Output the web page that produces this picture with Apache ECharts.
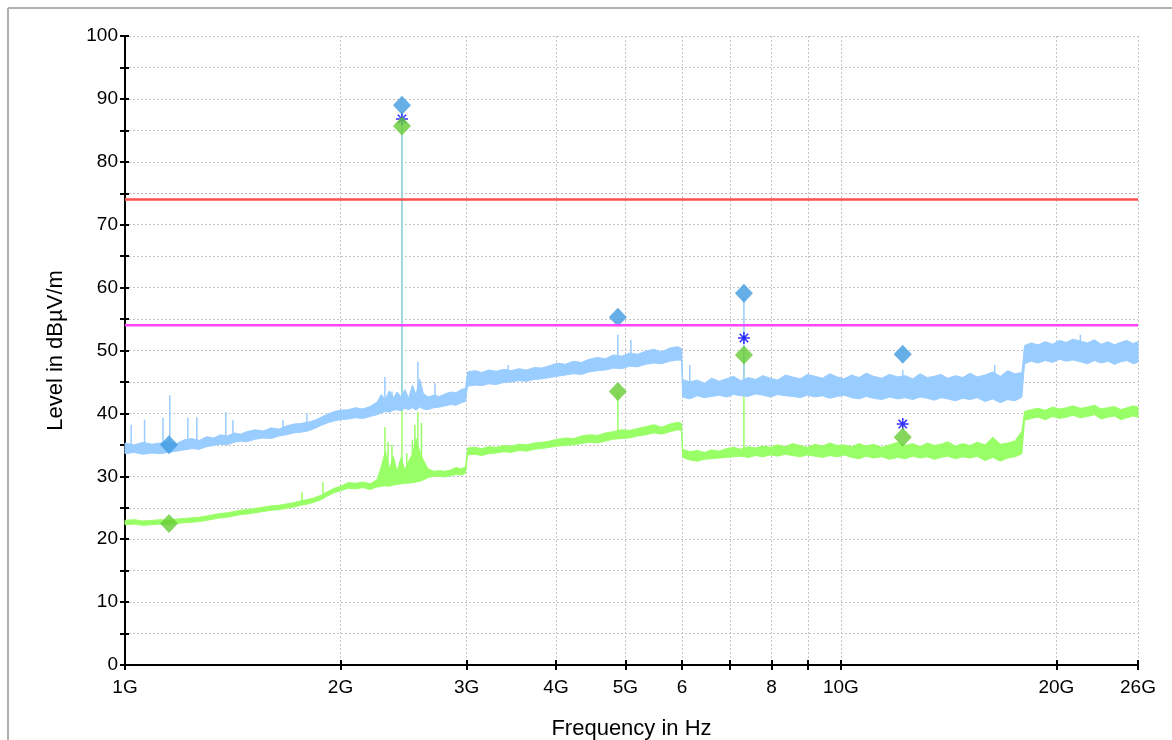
<!DOCTYPE html>
<html>
<head>
<meta charset="utf-8">
<script src="https://cdn.jsdelivr.net/npm/echarts@6/dist/echarts.min.js"></script>
<style>
  html, body { margin: 0; padding: 0; background: #fff; }
  #chart { width: 1172px; height: 740px; }
</style>
</head>
<body>
<div id="chart"></div>
<script>
// sweep frequencies in GHz
const freqs = [
  1.00, 1.03, 1.06, 1.09, 1.12, 1.15, 1.18, 1.21, 1.24, 1.27, 1.30, 1.33, 1.36, 1.39, 1.42, 1.45, 1.48, 1.52, 1.56, 1.60, 1.64, 1.68, 1.72, 1.76, 1.80, 1.84, 1.88, 1.92, 1.96, 2.00,
  2.05, 2.10, 2.15, 2.20, 2.25, 2.28, 2.31, 2.34, 2.37, 2.40, 2.43, 2.46, 2.49, 2.52, 2.55, 2.58, 2.61, 2.65, 2.70, 2.75, 2.80, 2.85, 2.90, 2.95, 2.99,
  3.01, 3.08, 3.15, 3.22, 3.30, 3.38, 3.46, 3.55, 3.64, 3.73, 3.82, 3.92, 4.02, 4.12, 4.23, 4.34, 4.45, 4.57, 4.69, 4.81, 4.94, 5.07, 5.20, 5.34, 5.48, 5.62, 5.77, 5.92, 5.99,
  6.01, 6.15, 6.30, 6.45, 6.60, 6.76, 6.92, 7.08, 7.25, 7.42, 7.60, 7.78, 7.97, 8.16, 8.36, 8.56, 8.77, 8.98, 9.20, 9.42, 9.65, 9.88, 10.1, 10.35, 10.6, 10.85, 11.1, 11.4, 11.7, 12.0, 12.3, 12.6, 12.9, 13.2, 13.5, 13.8, 14.1, 14.45, 14.8, 15.15, 15.5, 15.9, 16.3, 16.7, 17.1, 17.5, 17.9,
  18.05, 18.45, 18.85, 19.3, 19.75, 20.2, 20.65, 21.1, 21.6, 22.1, 22.6, 23.1, 23.6, 24.1, 24.6, 25.1, 25.6, 26.0
]

// peak trace (light blue), upper and lower edge of the noise band
const peakHi = [
  35.3, 35.0, 35.4, 35.1, 35.3, 35.6, 35.2, 35.8, 36.0, 35.7, 36.3, 36.1, 36.6, 36.4, 36.9, 36.7, 37.1, 37.4, 37.2, 37.7, 37.5, 38.0, 38.3, 38.4, 38.6, 38.9, 39.4, 39.9, 40.3, 40.5,
  40.6, 40.9, 40.7, 41.1, 41.8, 43.0, 42.2, 43.6, 42.5, 43.4, 42.6, 43.8, 42.4, 44.5, 43.0, 45.5, 43.2, 42.6, 42.9, 42.7, 43.1, 43.4, 43.3, 43.8, 44.0,
  46.6, 46.8, 46.5, 46.9, 46.7, 47.0, 46.8, 47.1, 46.9, 47.3, 47.2, 47.6, 48.0, 47.8, 48.3, 48.1, 48.6, 48.9, 48.7, 49.3, 49.1, 49.6, 49.4, 49.9, 50.2, 49.8, 50.4, 50.6, 50.3,
  45.4, 45.0, 45.3, 44.8, 45.6, 45.1, 45.5, 45.9, 45.2, 45.7, 45.4, 46.0, 45.6, 45.3, 46.1, 45.8, 45.5, 46.2, 45.9, 45.6, 46.3, 45.8, 45.5, 46.1, 45.7, 46.4, 45.9, 45.6, 46.2, 45.8, 46.0, 45.5, 46.3, 45.7, 45.9, 46.2, 45.6, 46.0, 45.7, 46.4, 45.8, 46.1, 46.6, 45.9, 46.8, 46.3, 46.5,
  50.8, 51.2, 50.9, 51.4, 51.0, 51.6, 51.3, 51.8, 51.5, 51.2, 51.7, 51.0, 51.4, 50.9, 51.3, 51.6, 51.1, 51.4
]
const peakLo = [
  33.6, 33.8, 33.5, 33.7, 33.6, 33.8, 34.0, 34.2, 34.4, 34.3, 34.7, 34.9, 35.1, 35.0, 35.4, 35.6, 35.5, 35.9, 36.1, 36.0, 36.4, 36.6, 36.9, 37.0, 37.2, 37.6, 38.1, 38.5, 38.8, 39.0,
  39.1, 39.3, 39.2, 39.5, 39.8, 40.1, 40.3, 40.2, 40.5, 40.6, 40.4, 40.8, 40.6, 40.9, 40.5, 41.0, 40.7, 40.6, 40.9, 41.0, 41.2, 41.4, 41.3, 41.7, 41.9,
  44.3, 44.5, 44.4, 44.7, 44.6, 44.9, 45.0, 45.2, 45.1, 45.4, 45.5, 45.7, 45.9, 46.1, 46.3, 46.2, 46.6, 46.8, 46.9, 47.2, 47.1, 47.5, 47.4, 47.8, 48.0, 47.9, 48.3, 48.5, 48.4,
  42.6, 42.3, 42.8, 42.5, 42.7, 42.9, 42.6, 43.0, 42.8, 42.7, 43.1, 42.9, 42.6, 43.0, 42.8, 42.7, 42.5, 42.9, 42.6, 42.8, 42.4, 42.7, 42.9, 42.5, 42.3, 42.7, 42.4, 42.2, 42.6, 42.3, 42.5, 42.2, 42.6, 42.4, 42.1, 42.5, 42.3, 42.0, 42.4, 42.2, 42.5, 41.9, 42.3, 41.7, 42.2, 42.0, 42.6,
  47.9, 48.3, 48.0, 48.4, 48.1, 48.6, 48.3, 48.5, 48.2, 47.9, 48.4, 48.0, 48.3, 47.8, 48.2, 48.4, 47.9, 48.1
]

// average trace (light green)
const avgHi = [
  23.0, 23.1, 22.9, 23.0, 23.1, 23.0, 23.2, 23.3, 23.4, 23.5, 23.7, 23.9, 24.1, 24.2, 24.4, 24.6, 24.7, 24.9, 25.1, 25.3, 25.4, 25.6, 25.8, 26.1, 26.3, 26.6, 27.0, 27.6, 28.1, 28.4,
  29.0, 28.9, 29.1, 28.8, 29.5, 31.5, 34.0, 31.2, 33.2, 30.8, 33.0, 31.0, 32.4, 33.5, 36.0, 34.0, 32.6, 31.2, 30.8, 30.9, 30.8, 31.0, 31.4, 31.2, 31.5,
  34.5, 34.6, 34.4, 34.7, 34.6, 34.9, 34.8, 35.1, 35.0, 35.3, 35.4, 35.6, 35.9, 36.1, 36.0, 36.4, 36.6, 36.5, 36.9, 37.1, 37.4, 37.3, 37.6, 37.9, 38.2, 37.8, 38.3, 38.6, 38.4,
  34.3, 33.9, 34.1, 33.8, 34.2, 34.0, 34.4, 34.6, 34.3, 34.7, 34.5, 34.8, 34.6, 35.0, 34.7, 35.2, 34.9, 34.6, 35.1, 34.8, 35.3, 34.9, 35.0, 34.7, 35.2, 34.8, 35.1, 34.6, 35.0, 35.4, 34.9, 35.2, 34.7, 35.3, 34.9, 35.1, 35.5, 34.8, 35.2, 34.9, 35.4, 35.0, 36.2, 35.1, 35.3, 35.6, 37.2,
  40.3, 40.6, 40.8, 40.5, 41.0, 40.7, 40.9, 41.2, 40.8, 41.0, 41.3, 40.7, 40.9, 41.1, 40.6, 40.9, 41.2, 41.0
]
const avgLo = [
  22.3, 22.4, 22.2, 22.3, 22.4, 22.3, 22.5, 22.6, 22.7, 22.8, 23.0, 23.2, 23.4, 23.5, 23.7, 23.9, 24.0, 24.2, 24.4, 24.6, 24.7, 24.9, 25.1, 25.4, 25.6, 25.9, 26.3, 26.9, 27.4, 27.7,
  28.1, 28.0, 28.2, 27.9, 28.3, 28.4, 28.5, 28.4, 28.6, 28.7, 28.8, 28.9, 28.9, 29.0, 29.1, 29.2, 29.4, 29.8, 30.0, 30.0, 29.9, 30.1, 30.3, 30.2, 30.5,
  33.4, 33.5, 33.3, 33.6, 33.7, 33.9, 33.8, 34.1, 34.0, 34.3, 34.4, 34.6, 34.8, 34.9, 35.0, 35.2, 35.4, 35.3, 35.6, 35.9, 36.0, 36.1, 36.4, 36.6, 36.9, 36.7, 37.1, 37.4, 37.3,
  33.0, 32.6, 32.4, 32.7, 32.8, 32.9, 33.0, 33.1, 33.2, 33.0, 33.3, 33.1, 33.4, 33.2, 33.5, 33.3, 33.1, 33.4, 33.2, 33.0, 33.3, 33.1, 33.4, 33.0, 32.8, 33.2, 32.9, 33.1, 32.7, 33.0, 32.8, 33.2, 32.9, 33.1, 32.7, 33.0, 33.2, 32.8, 33.1, 32.9, 33.2, 32.5, 33.0, 32.4, 32.9, 33.1, 33.6,
  38.9, 39.2, 39.4, 39.0, 39.5, 39.2, 39.4, 39.7, 39.3, 39.5, 39.8, 39.1, 39.4, 39.6, 39.0, 39.3, 39.6, 39.4
]

// narrow spikes: [GHz, from dB, to dB]
const peakSpikes = [
  [1.02, 35, 38.2], [1.065, 35, 39.0], [1.13, 35, 39.3], [1.155, 35, 42.9], [1.224, 35.5, 39.3],
  [1.26, 35.5, 39.4], [1.383, 36, 40.2], [1.415, 36, 38.9], [1.662, 37, 38.9], [1.795, 38, 40.0],
  [2.307, 41, 45.8], [2.36, 41, 43.5], [2.437, 42, 88.0], [2.565, 42, 48.2], [2.71, 42, 44.8],
  [3.43, 46, 47.7], [4.88, 48, 52.5], [5.09, 49, 51.7], [6.15, 44, 47.7], [7.32, 44, 58.5],
  [12.2, 45, 46.9], [16.4, 45, 47.7], [21.6, 50, 52.5]
]
const avgSpikes = [
  [1.767, 26, 27.5], [1.89, 27, 29.1], [2.307, 29, 37.8], [2.33, 29, 35.5], [2.36, 29, 35.0],
  [2.437, 30, 85.7], [2.475, 29, 33.7], [2.52, 29, 35.8], [2.54, 29, 38.2], [2.565, 30, 40.2],
  [2.595, 30, 38.5], [4.88, 37, 43.4], [7.32, 34, 49.3]
]

// markers
const peakMarks = [[1.152, 35.0], [2.437, 89.0], [4.88, 55.3], [7.32, 59.1], [12.2, 49.4]]
const avgMarks = [[1.152, 22.5], [2.437, 85.7], [4.88, 43.5], [7.32, 49.3], [12.2, 36.2]]
const starMarks = [[2.437, 86.8], [7.32, 52.0], [12.2, 38.3]]

// limit lines
const limitPeak = [[1, 74], [26, 74]]
const limitAvg = [[1, 54], [26, 54]]

// axis ticks
const tickFreqs = [1, 2, 3, 4, 5, 6, 7, 8, 9, 10, 20, 26]
const labelFreqs = [1, 2, 3, 4, 5, 6, 8, 10, 20, 26]
const labelText = {1: '1G', 2: '2G', 3: '3G', 4: '4G', 5: '5G', 6: '6', 8: '8', 10: '10G', 20: '20G', 26: '26G'}

const lg = f => Math.log10(f)
const xMax = lg(26)
const font = 'Liberation Sans, Arial, sans-serif'

function bandSeries (lo, hi, color) {
  return {
    type: 'custom',
    silent: true,
    data: freqs.map((f, i) => [lg(f), lo[i], hi[i]]),
    encode: {x: 0, y: [1, 2]},
    renderItem: function (params, api) {
      if (params.dataIndex !== 0) return null
      let pts = []
      for (let i = 0; i < freqs.length; i++) pts.push(api.coord([lg(freqs[i]), hi[i]]))
      for (let i = freqs.length - 1; i >= 0; i--) pts.push(api.coord([lg(freqs[i]), lo[i]]))
      return {
        type: 'polygon',
        shape: {points: pts},
        style: {fill: color, stroke: color, lineWidth: 1}
      }
    }
  }
}

function spikeSeries (list, color) {
  return {
    type: 'custom',
    silent: true,
    data: list.map(s => [lg(s[0]), s[1], s[2]]),
    encode: {x: 0, y: [1, 2]},
    renderItem: function (params, api) {
      let a = api.coord([api.value(0), api.value(1)])
      let b = api.coord([api.value(0), api.value(2)])
      return {
        type: 'line',
        shape: {x1: a[0], y1: a[1], x2: b[0], y2: b[1]},
        style: {stroke: color, lineWidth: 1.5}
      }
    }
  }
}

let myChart = echarts.init(document.getElementById('chart'))

let option = {
  animation: false,
  textStyle: {fontFamily: font},
  grid: {left: 125, right: 34, top: 36, bottom: 75, containLabel: false, outerBoundsMode: 'none'},
  graphic: [
    {type: 'line', shape: {x1: 8, y1: 8, x2: 1172, y2: 8}, style: {stroke: '#b0b0b0', lineWidth: 2}},
    {type: 'line', shape: {x1: 8, y1: 8, x2: 8, y2: 740}, style: {stroke: '#b0b0b0', lineWidth: 2}}
  ],
  xAxis: [
    {
      type: 'value',
      min: 0,
      max: xMax,
      name: 'Frequency in Hz',
      nameLocation: 'middle',
      nameGap: 53,
      nameTextStyle: {fontSize: 22, color: '#000', fontFamily: font},
      axisLine: {lineStyle: {color: '#000', width: 2}},
      axisTick: {show: true, inside: false, length: 5, lineStyle: {color: '#000', width: 2}, customValues: tickFreqs.map(lg)},
      axisLabel: {
        fontSize: 19,
        color: '#000',
        margin: 13,
        customValues: labelFreqs.map(lg),
        formatter: function (v) { return labelText[Math.round(Math.pow(10, v))] || '' }
      },
      splitLine: {show: true, lineStyle: {color: '#c4c4c4', width: 1, type: [2, 2]}}
    },
    {
      type: 'value',
      min: 0,
      max: xMax,
      position: 'bottom',
      axisLine: {show: false},
      axisTick: {show: true, inside: true, length: 5, lineStyle: {color: '#000', width: 2}, customValues: tickFreqs.map(lg)},
      axisLabel: {show: false},
      splitLine: {show: false}
    }
  ],
  yAxis: [
    {
      type: 'value',
      min: 0,
      max: 100,
      interval: 5,
      name: 'Level in dBµV/m',
      nameLocation: 'middle',
      nameGap: 58,
      nameTextStyle: {fontSize: 22, color: '#000', fontFamily: font},
      axisLine: {show: true, lineStyle: {color: '#000', width: 2}},
      axisTick: {show: true, inside: false, length: 5, lineStyle: {color: '#000', width: 2}},
      axisLabel: {
        fontSize: 19,
        color: '#000',
        margin: 7,
        formatter: function (v) { return v % 10 === 0 ? String(v) : '' }
      },
      splitLine: {show: true, lineStyle: {color: '#c4c4c4', width: 1, type: [2, 2]}}
    },
    {
      type: 'value',
      min: 0,
      max: 100,
      interval: 5,
      position: 'left',
      axisLine: {show: false},
      axisTick: {show: true, inside: true, length: 4, lineStyle: {color: '#000', width: 2}},
      axisLabel: {show: false},
      splitLine: {show: false}
    }
  ],
  series: [
    bandSeries(avgLo, avgHi, '#99ff66'),
    spikeSeries(avgSpikes, '#99ff66'),
    bandSeries(peakLo, peakHi, '#99ccff'),
    spikeSeries(peakSpikes, '#99ccff'),
    {
      type: 'line',
      silent: true,
      symbol: 'none',
      data: limitPeak.map(p => [lg(p[0]), p[1]]),
      lineStyle: {color: '#ff5050', width: 2.5}
    },
    {
      type: 'line',
      silent: true,
      symbol: 'none',
      data: limitAvg.map(p => [lg(p[0]), p[1]]),
      lineStyle: {color: '#ff44ff', width: 2.5}
    },
    {
      type: 'scatter',
      symbol: 'path://M5,0L5,10M0,5L10,5M1.5,1.5L8.5,8.5M1.5,8.5L8.5,1.5',
      symbolSize: 12,
      data: starMarks.map(p => [lg(p[0]), p[1]]),
      itemStyle: {color: 'none', borderColor: '#0000ff', borderWidth: 1.5}
    },
    {
      type: 'scatter',
      symbol: 'diamond',
      symbolSize: [18, 19],
      data: avgMarks.map(p => [lg(p[0]), p[1]]),
      itemStyle: {color: '#66cc33'}
    },
    {
      type: 'scatter',
      symbol: 'diamond',
      symbolSize: [18, 19],
      data: peakMarks.map(p => [lg(p[0]), p[1]]),
      itemStyle: {color: '#3e9be0'}
    }
  ]
}

myChart.setOption(option)
</script>
</body>
</html>
